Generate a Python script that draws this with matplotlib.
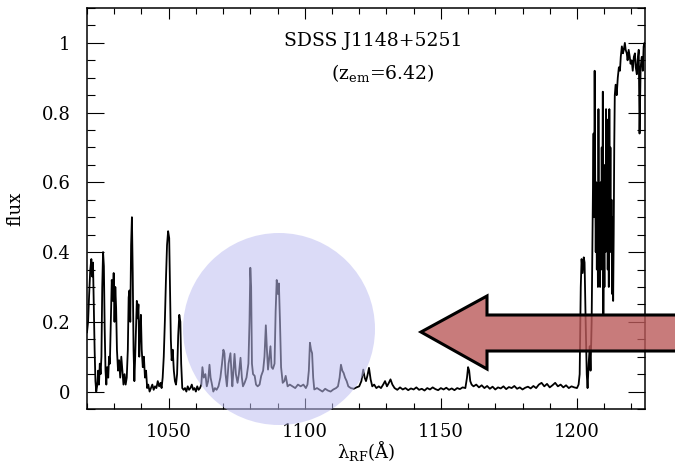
import numpy as np
import matplotlib
matplotlib.use('Agg')
import matplotlib.pyplot as plt
from matplotlib import patches, ticker

plt.rcParams['font.family'] = 'DejaVu Serif'
plt.rcParams['mathtext.fontset'] = 'dejavuserif'

# rest-frame spectrum of the quasar, wavelength (A) and normalised flux
wave = [
    1020.0, 1020.4, 1020.8, 1021.2, 1021.6, 1021.9, 1022.2, 1022.5, 1022.8, 1023.1,
    1023.4, 1023.8, 1024.1, 1024.4, 1024.7, 1025.0, 1025.3, 1025.6, 1025.9, 1026.2,
    1026.5, 1026.8, 1027.1, 1027.4, 1027.8, 1028.1, 1028.4, 1028.8, 1029.1, 1029.5,
    1029.8, 1030.1, 1030.4, 1030.7, 1031.0, 1031.4, 1031.8, 1032.2, 1032.6, 1033.0,
    1033.4, 1033.8, 1034.2, 1034.6, 1035.0, 1035.3, 1035.6, 1035.9, 1036.2, 1036.5,
    1036.8, 1037.1, 1037.4, 1037.7, 1038.0, 1038.3, 1038.6, 1038.9, 1039.2, 1039.5,
    1039.8, 1040.1, 1040.5, 1040.9, 1041.3, 1041.7, 1042.1, 1042.5, 1043.0, 1043.5,
    1044.0, 1044.5, 1045.0, 1045.5, 1046.0, 1046.5, 1047.0, 1047.4, 1047.8, 1048.2,
    1048.6, 1049.0, 1049.4, 1049.8, 1050.2, 1050.5, 1050.8, 1051.1, 1051.5, 1051.9,
    1052.3, 1052.7, 1053.1, 1053.5, 1053.9, 1054.3, 1054.6, 1055.0, 1055.5, 1056.0,
    1056.5, 1057.0, 1057.5, 1058.0, 1058.5, 1059.0, 1059.5, 1060.0, 1060.5, 1061.0,
    1061.5, 1062.0, 1062.4, 1062.9, 1063.5, 1064.0, 1064.5, 1065.0, 1065.4, 1065.8,
    1066.4, 1067.0, 1067.6, 1068.3, 1069.0, 1069.6, 1070.1, 1070.5, 1070.9, 1071.4,
    1072.0, 1072.7, 1073.1, 1073.4, 1073.8, 1074.2, 1074.7, 1075.3, 1075.8, 1076.4,
    1076.9, 1077.3, 1077.9, 1078.6, 1079.3, 1079.7, 1080.0, 1080.3, 1080.6, 1081.0,
    1081.6, 1082.1, 1082.7, 1083.4, 1084.0, 1084.7, 1085.2, 1085.7, 1086.1, 1086.5,
    1087.0, 1087.4, 1087.8, 1088.3, 1088.9, 1089.3, 1089.7, 1090.1, 1090.5, 1090.9,
    1091.3, 1091.9, 1092.5, 1093.0, 1093.7, 1094.5, 1095.5, 1096.5, 1097.5, 1098.5,
    1099.5, 1100.4, 1101.0, 1101.5, 1101.9, 1102.3, 1102.7, 1103.1, 1103.5, 1104.5,
    1105.5, 1106.5, 1107.5, 1108.5, 1109.5, 1110.5, 1111.5, 1112.2, 1112.8, 1113.3,
    1113.8, 1114.3, 1114.8, 1115.4, 1116.0, 1116.9, 1118.0, 1119.0, 1120.0, 1120.8,
    1121.5, 1122.0, 1122.5, 1123.0, 1123.6, 1124.2, 1124.8, 1125.5, 1126.3, 1127.2,
    1128.0, 1128.8, 1129.5, 1130.2, 1130.9, 1131.5, 1132.2, 1133.0, 1134.0, 1135.0,
    1136.0, 1137.0, 1138.0, 1139.0, 1140.0, 1141.0, 1142.0, 1143.0, 1144.0, 1145.0,
    1146.0, 1147.0, 1148.0, 1149.0, 1150.0, 1151.0, 1152.0, 1153.0, 1154.0, 1155.0,
    1156.0, 1157.0, 1158.0, 1159.0, 1159.6, 1160.0, 1160.4, 1160.8, 1161.3, 1162.0,
    1163.0, 1164.0, 1165.0, 1166.0, 1167.0, 1168.0, 1169.0, 1170.0, 1171.0, 1172.0,
    1173.0, 1174.0, 1175.0, 1176.0, 1177.0, 1178.0, 1179.0, 1180.0, 1181.0, 1182.0,
    1183.0, 1184.0, 1185.0, 1186.0, 1187.0, 1188.0, 1189.0, 1190.0, 1191.0, 1192.0,
    1193.0, 1194.0, 1195.0, 1196.0, 1197.0, 1198.0, 1199.0, 1200.0, 1200.6, 1201.0,
    1201.4, 1201.7, 1202.1, 1202.5, 1202.8, 1203.2, 1203.6, 1203.9, 1204.3, 1204.7,
    1205.0, 1205.4, 1205.7, 1205.9, 1206.1, 1206.3, 1206.5, 1206.7, 1206.9, 1207.1,
    1207.3, 1207.5, 1207.7, 1207.9, 1208.1, 1208.3, 1208.5, 1208.7, 1208.9, 1209.1,
    1209.3, 1209.5, 1209.7, 1209.9, 1210.1, 1210.3, 1210.5, 1210.7, 1210.9, 1211.1,
    1211.3, 1211.5, 1211.7, 1211.9, 1212.1, 1212.3, 1212.5, 1212.7, 1212.9, 1213.1,
    1213.3, 1213.5, 1213.7, 1213.9, 1214.2, 1214.6, 1215.0, 1215.4, 1215.8,
    1216.1, 1216.5, 1216.9, 1217.2, 1217.6, 1217.9, 1218.3, 1218.6, 1219.0, 1219.4,
    1219.7, 1220.1, 1220.5, 1220.9, 1221.3, 1221.6, 1222.0, 1222.3, 1222.7, 1223.0,
    1223.4, 1223.8, 1224.2, 1224.5, 1224.8, 1225.0,
]
flux = [
    0.17, 0.20, 0.28, 0.35, 0.38, 0.33, 0.37, 0.25, 0.12, 0.03,
    0.00, 0.02, 0.06, 0.02, 0.08, 0.05, 0.10, 0.30, 0.40, 0.36,
    0.18, 0.06, 0.02, 0.07, 0.04, 0.10, 0.08, 0.22, 0.32, 0.26,
    0.34, 0.20, 0.30, 0.24, 0.12, 0.06, 0.09, 0.04, 0.10, 0.06,
    0.02, 0.05, 0.02, 0.04, 0.12, 0.27, 0.29, 0.20, 0.42, 0.50,
    0.34, 0.12, 0.03, 0.10, 0.18, 0.26, 0.21, 0.25, 0.10, 0.18,
    0.22, 0.12, 0.07, 0.10, 0.04, 0.06, 0.01, 0.02, 0.00, 0.01,
    0.02, 0.005, 0.015, 0.01, 0.03, 0.015, 0.025, 0.01, 0.04, 0.10,
    0.20, 0.32, 0.42, 0.46, 0.44, 0.30, 0.15, 0.09, 0.12, 0.06,
    0.03, 0.02, 0.05, 0.16, 0.22, 0.20, 0.08, 0.01, 0.005, 0.01,
    0.00, 0.015, 0.005, 0.01, 0.02, 0.005, 0.01, 0.00, 0.015, 0.005,
    0.01, 0.02, 0.07, 0.04, 0.05, 0.015, 0.03, 0.077, 0.04, 0.025,
    0.00, 0.01, 0.005, 0.015, 0.04, 0.08, 0.12, 0.11, 0.05, 0.015,
    0.08, 0.11, 0.05, 0.015, 0.06, 0.108, 0.05, 0.025, 0.05, 0.097,
    0.04, 0.015, 0.025, 0.04, 0.08, 0.20, 0.355, 0.30, 0.08, 0.05,
    0.045, 0.02, 0.015, 0.02, 0.045, 0.06, 0.10, 0.19, 0.12, 0.063,
    0.10, 0.13, 0.07, 0.065, 0.08, 0.23, 0.32, 0.28, 0.31, 0.20,
    0.07, 0.025, 0.03, 0.045, 0.015, 0.02, 0.015, 0.01, 0.02, 0.015,
    0.02, 0.01, 0.02, 0.06, 0.14, 0.12, 0.11, 0.04, 0.006, 0.01,
    0.005, 0.00, 0.008, 0.003, 0.00, 0.006, 0.01, 0.015, 0.04, 0.077,
    0.06, 0.053, 0.04, 0.03, 0.015, 0.01, 0.008, 0.012, 0.015, 0.03,
    0.063, 0.04, 0.03, 0.045, 0.068, 0.035, 0.015, 0.02, 0.01, 0.015,
    0.01, 0.02, 0.03, 0.015, 0.025, 0.035, 0.02, 0.01, 0.005, 0.012,
    0.006, 0.01, 0.004, 0.009, 0.006, 0.012, 0.005, 0.008, 0.003, 0.01,
    0.006, 0.012, 0.007, 0.004, 0.01, 0.006, 0.011, 0.005, 0.009, 0.004,
    0.01, 0.007, 0.012, 0.01, 0.04, 0.07, 0.06, 0.03, 0.02, 0.015,
    0.02, 0.012, 0.018, 0.01, 0.016, 0.008, 0.014, 0.006, 0.012, 0.009,
    0.015, 0.007, 0.013, 0.01, 0.016, 0.008, 0.012, 0.006, 0.011, 0.014,
    0.009, 0.016, 0.01, 0.02, 0.025, 0.015, 0.022, 0.012, 0.018, 0.025,
    0.015, 0.02, 0.012, 0.018, 0.01, 0.015, 0.012, 0.01, 0.02, 0.05,
    0.30, 0.38, 0.34, 0.385, 0.37, 0.20, 0.05, 0.01, 0.08, 0.13,
    0.06, 0.20, 0.45, 0.60, 0.74, 0.50, 0.92, 0.62, 0.40, 0.60,
    0.35, 0.55, 0.30, 0.81, 0.45, 0.55, 0.30, 0.60, 0.35, 0.70,
    0.45, 0.86, 0.22, 0.50, 0.30, 0.65, 0.40, 0.81, 0.50, 0.78,
    0.35, 0.60, 0.30, 0.81, 0.45, 0.70, 0.40, 0.55, 0.28, 0.50,
    0.26, 0.45, 0.70, 0.85, 0.88, 0.85, 0.90, 0.93, 0.92,
    0.96, 0.99, 0.97, 0.98, 1.00, 0.98, 0.97, 0.95, 0.98, 0.96,
    0.94, 0.95, 0.92, 0.96, 0.97, 0.93, 0.91, 0.95, 0.98, 0.74,
    0.93, 0.96, 0.92, 0.99, 1.00, 0.99,
]

title_line1 = 'SDSS J1148+5251'
title_line2 = r'(z$_{\mathrm{em}}$=6.42)'

fig = plt.figure(figsize=(6.75, 4.62), dpi=100)
ax = fig.add_axes([87/675, 1 - 409/462, 558/675, 401/462])

ax.plot(wave, flux, color='black', lw=1.3)

ax.set_xlim(1020, 1225)
ax.set_ylim(-0.05, 1.1)
ax.xaxis.set_major_locator(ticker.MultipleLocator(50))
ax.xaxis.set_minor_locator(ticker.MultipleLocator(10))
ax.yaxis.set_major_locator(ticker.MultipleLocator(0.2))
ax.yaxis.set_minor_locator(ticker.MultipleLocator(0.05))
ax.yaxis.set_major_formatter(ticker.FormatStrFormatter('%g'))

ax.tick_params(which='both', direction='in', top=True, right=True, width=0.8, labelsize=13)
ax.tick_params(axis='x', which='major', length=8, pad=10)
ax.tick_params(axis='x', which='minor', length=4.3)
ax.tick_params(axis='y', which='major', length=12, pad=12)
ax.tick_params(axis='y', which='minor', length=6)
for s in ax.spines.values():
    s.set_linewidth(1.1)

ax.set_xlabel('λ$_{\\mathrm{RF}}$(Å)', fontsize=13)
ax.xaxis.set_label_coords(0.5, -0.075)
ax.set_ylabel('flux', fontsize=13, labelpad=12)

ax.text(1125, 1.005, title_line1, fontsize=13.5, ha='center', va='center')
ax.text(1128.5, 0.915, title_line2, fontsize=13.5, ha='center', va='center')

# shaded circle over the metal-line forest
circ = patches.Circle((2.79, 1.33), 0.96, transform=fig.dpi_scale_trans,
                      facecolor=(190/255, 190/255, 242/255), alpha=0.55,
                      edgecolor='none', zorder=5)
fig.add_artist(circ)

# big arrow pointing blueward
arrow_pts = [(4.21, 1.30), (4.87, 1.66), (4.87, 1.47), (6.95, 1.47),
             (6.95, 1.11), (4.87, 1.11), (4.87, 0.93)]
arrow = patches.Polygon(arrow_pts, closed=True, transform=fig.dpi_scale_trans,
                        facecolor=(187/255, 90/255, 90/255, 0.8),
                        edgecolor='black', lw=2.2, joinstyle='miter', zorder=6)
fig.add_artist(arrow)

fig.savefig('out.png', dpi=100)
